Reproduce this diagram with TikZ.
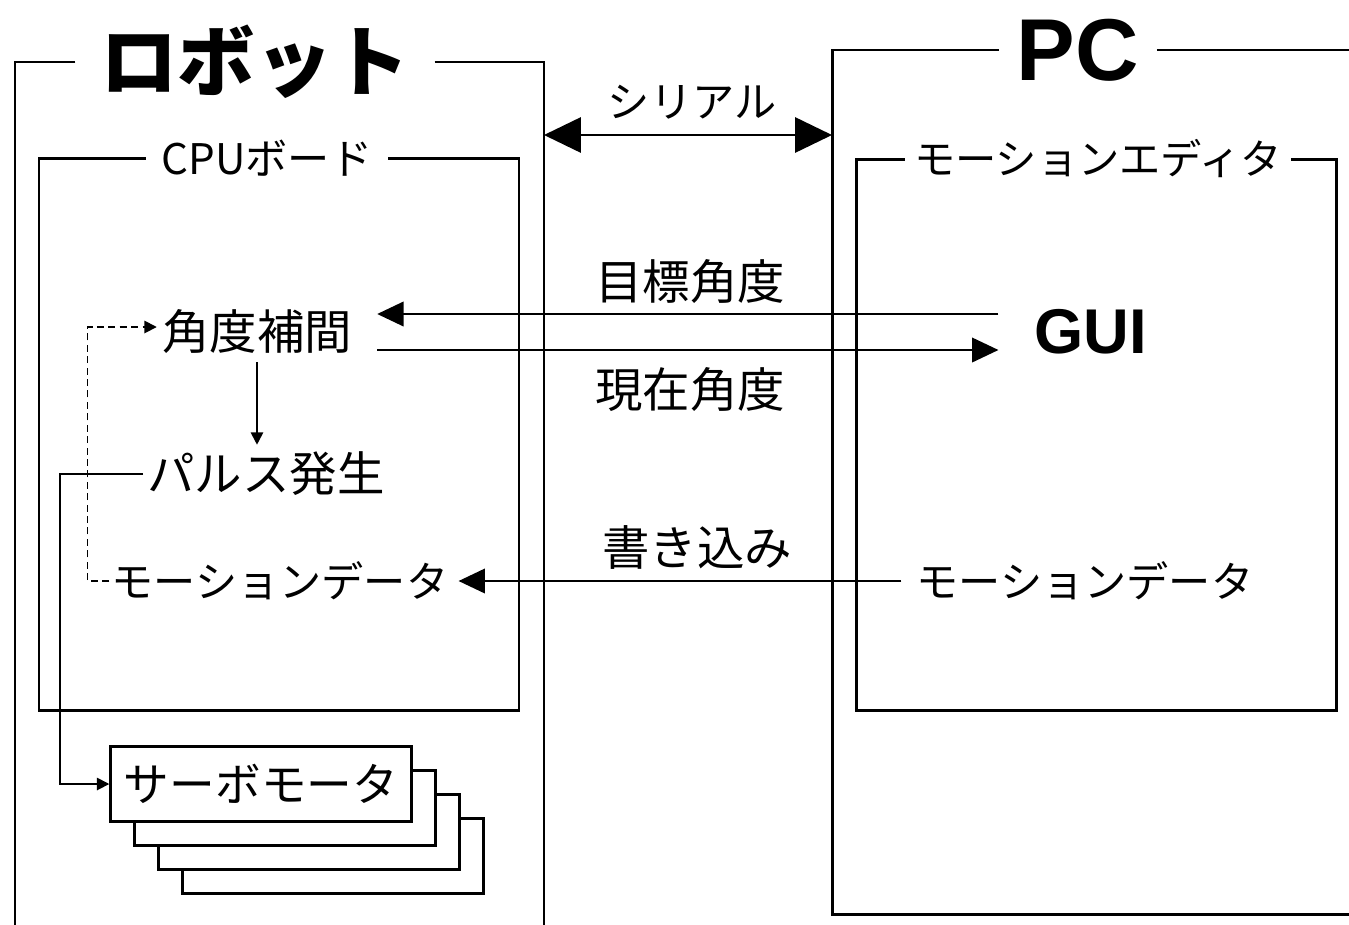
\documentclass[tikz,border=0pt]{standalone}
\usepackage{fontspec}
\setmainfont{Noto Sans CJK JP}
\newfontfamily\boldsans{Liberation Sans}
\usetikzlibrary{arrows.meta,calc,positioning}
\tikzset{%
	outline/.style   = {line width=1.7pt},
	txt/.style       = {inner sep=0pt, font=\fontsize{27pt}{27pt}\selectfont},
	smalltxt/.style  = {inner sep=0pt, font=\fontsize{24pt}{24pt}\selectfont},
	heading/.style   = {inner ysep=0pt, font=\fontsize{24pt}{24pt}\selectfont},
	guitxt/.style    = {inner sep=0pt, font=\boldsans\bfseries\fontsize{36pt}{36pt}\selectfont},
	link/.style      = {line width=1pt},
	bigarrow/.style  = {link, -{Triangle[length=15pt,width=14pt]}},
	tinyarrow/.style = {link, -{Triangle[length=7pt,width=7pt]}},
	serial/.style    = {line width=1.4pt, {Triangle[length=21pt,width=20pt]}-{Triangle[length=21pt,width=20pt]}},
	servobox/.style  = {draw, line width=1.7pt, fill=white, minimum width=171pt, minimum height=43pt, inner sep=0pt, font=\fontsize{26pt}{26pt}\selectfont},
}

\begin{document}
\begin{tikzpicture}[x=0.02cm,y=-0.02cm]
	\useasboundingbox (0,0) rectangle (1349,924);

	% robot side
	\node[inner ysep=0pt, inner xsep=14pt, font=\bfseries\fontsize{44pt}{44pt}\selectfont] (robot) at (255,62) {ロボット};
	\draw[outline] (robot.west) -- (15,62) -- (15,930);
	\draw[outline] (robot.east) -- (544,62) -- (544,930);
	\node[heading, inner xsep=9pt] (cpu) at (267,158) {CPUボード};
	\draw[outline] (cpu.west) -- (39,158) -- (39,710) -- (519,710) -- (519,158) -- (cpu.east);

	% pc side
	\node[inner ysep=0pt, inner xsep=10pt, font=\boldsans\bfseries\fontsize{50pt}{50pt}\selectfont] (pc) at (1078,50) {PC};
	\draw[outline] (pc.west) -- (832,50) -- (832,914) -- (1360,914);
	\draw[outline] (pc.east) -- (1360,50);
	\node[heading, inner xsep=5pt, font=\fontsize{23.5pt}{23.5pt}\selectfont] (editor) at (1098,159) {モーションエディタ};
	\draw[outline] (editor.west) -- (856,159) -- (856,710) -- (1336,710) -- (1336,159) -- (editor.east);

	% serial link
	\coordinate (robotport) at (544,135);
	\coordinate (pcport) at (832,135);
	\draw[serial] (robotport) -- (pcport);
	\node[smalltxt] (serialtxt) at (692,102) {シリアル};

	% blocks
	\node[txt] (interp) at (257,332) {角度補間};
	\node[txt] (pulse) at (266,474) {パルス発生};
	\node[smalltxt] (mdata) at (280,581) {モーションデータ};
	\node[guitxt] (gui) at (1091,332) {GUI};
	\node[smalltxt] (pcdata) at (1085,581) {モーションデータ};

	% labels on the links
	\node[txt] (target) at (690,282) {目標角度};
	\node[txt] (current) at (690,390) {現在角度};
	\node[txt] (write) at (697,547) {書き込み};

	\draw[bigarrow] ($(gui.west)+(-36,-18)$) -- ($(interp.east)+(25,-18)$);
	\draw[bigarrow] ($(interp.east)+(25,18)$) -- ($(gui.west)+(-36,18)$);
	\draw[bigarrow] ($(pcdata.west)+(-15,0)$) -- ($(mdata.east)+(10,0)$);
	\draw[tinyarrow] ($(interp.south)+(0,8)$) -- ($(interp.south |- pulse.north)+(0,-7)$);
	\draw[tinyarrow, dash pattern=on 4pt off 2.5pt] ($(mdata.west)+(-2,0)$) -- ++(-22,0) |- ($(interp.west)+(-5,-5)$);

	% servo motors
	\foreach \k in {3,2,1}
		\node[servobox] at (261+24*\k,784+24*\k) {};
	\node[servobox] (servo) at (261,784) {サーボモータ};
	\draw[tinyarrow] ($(pulse.west)+(-4,0)$) -- ++(-83,0) |- (servo.west);
\end{tikzpicture}
\end{document}
